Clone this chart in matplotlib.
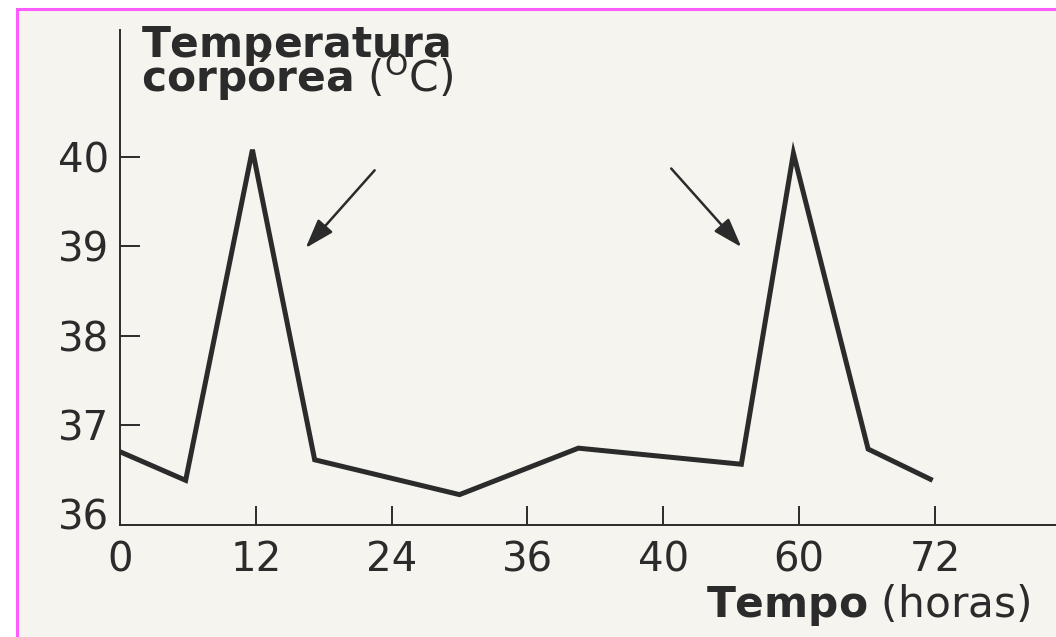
import matplotlib
matplotlib.use("Agg")
import matplotlib.pyplot as plt
from matplotlib.patches import Rectangle

# Values
hours = [0, 5.8, 11.7, 17.2, 30.0, 40.5, 54.9, 59.5, 66.1, 71.8]
temp = [36.70, 36.38, 40.08, 36.61, 36.22, 36.74, 36.56, 40.04, 36.73, 36.38]

x_ticks = [0, 12, 24, 36, 48, 60, 72]
x_labels = ["0", "12", "24", "36", "40", "60", "72"]
y_ticks = [36, 37, 38, 39, 40]
y_labels = ["36", "37", "38", "39", "40"]

ink = "#2b2b2b"
paper = "#f6f4ef"

plt.rcParams["font.family"] = ["DejaVu Sans"]
plt.rcParams["mathtext.fontset"] = "dejavusans"

fig = plt.figure(figsize=(10.56, 6.37), dpi=100, facecolor="white")

# scanned page with the pink frame
fig.patches.append(Rectangle((17 / 1056, -0.05), 1.1, 1 - 9 / 637 + 0.05,
                             transform=fig.transFigure, facecolor=paper,
                             edgecolor="#ff5cff", linewidth=2.2, zorder=-5))

ax = fig.add_axes([120 / 1056, 1 - 525 / 637, 1 - 120 / 1056, 495 / 637])
ax.set_facecolor("none")

ax.plot(hours, temp, color=ink, linewidth=3.6, solid_joinstyle="miter",
        solid_capstyle="butt")

ax.set_xlim(0, 82.7)
ax.set_ylim(35.88, 41.42)

for s in ["top", "right"]:
    ax.spines[s].set_visible(False)
for s in ["left", "bottom"]:
    ax.spines[s].set_color(ink)
    ax.spines[s].set_linewidth(1.4)

ax.set_xticks(x_ticks)
ax.set_xticklabels(x_labels)
ax.set_yticks(y_ticks)
ax.set_yticklabels(y_labels)
ax.tick_params(axis="both", direction="in", colors=ink, labelsize=29,
               width=1.4)
ax.tick_params(axis="x", length=14, pad=11)
ax.tick_params(axis="y", length=14.5, pad=8)
ax.xaxis.get_major_ticks()[0].tick1line.set_visible(False)
ax.yaxis.get_major_ticks()[0].tick1line.set_visible(False)

# y axis title, two lines in one text
fig.text(141 / 1056, 1 - 92 / 637,
         r"$\mathbf{Temperatura}$" + "\n" +
         r"$\mathbf{corp\acute{o}rea}$ ($^{\mathrm{O}}$C)",
         fontsize=30.5, color=ink, va="baseline", ha="left",
         linespacing=0.6)

# x axis title
fig.text(1030 / 1056, 1 - 617 / 637,
         r"$\mathbf{Tempo}$ (horas)", fontsize=30.5, color=ink,
         va="baseline", ha="right")

# arrows pointing at the fever peaks
arrow = dict(arrowstyle="-|>,head_length=0.9,head_width=0.3",
             mutation_scale=20, color=ink, linewidth=1.8, shrinkA=0, shrinkB=0)
ax.annotate("", xy=(16.4, 38.98), xytext=(22.5, 39.85), arrowprops=arrow)
ax.annotate("", xy=(54.9, 38.99), xytext=(48.7, 39.87), arrowprops=arrow)

fig.savefig("out.png", dpi=100, facecolor=fig.get_facecolor())
